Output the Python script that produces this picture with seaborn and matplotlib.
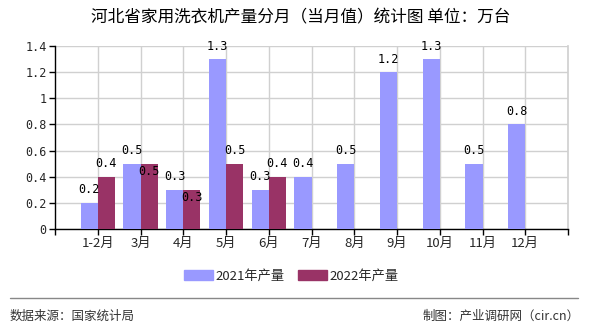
import matplotlib
matplotlib.use("Agg")
import matplotlib.pyplot as plt
import matplotlib.patches as mpatches
from matplotlib.ticker import FixedLocator, FuncFormatter
import numpy as np
import pandas as pd
import seaborn as sns

# Monthly washing-machine output for Hebei (unit: 10k sets)
months = ["1-2月", "3月", "4月", "5月", "6月", "7月", "8月", "9月", "10月", "11月", "12月"]
output_2021 = [0.2, 0.5, 0.3, 1.3, 0.3, 0.4, 0.5, 1.2, 1.3, 0.5, 0.8]
output_2022 = [0.4, 0.5, 0.3, 0.5, 0.4]
series_names = ["2021年产量", "2022年产量"]
colors = ["#9999FF", "#993366"]

sns.set_theme(style="white")
plt.rcParams["font.family"] = ["Noto Sans CJK SC", "DejaVu Sans"]
plt.rcParams["axes.unicode_minus"] = False

rows = []
for m, v in zip(months, output_2021):
    rows.append({"month": m, "value": v, "series": series_names[0]})
for m, v in zip(months, output_2022):
    rows.append({"month": m, "value": v, "series": series_names[1]})
df = pd.DataFrame(rows)

fig = plt.figure(figsize=(5.9, 3.3), dpi=100)
W, H = 590, 330
ax = fig.add_axes([55 / W, 1 - 229 / H, (568 - 55) / W, (229 - 46) / H])

sns.barplot(data=df, x="month", y="value", hue="series", order=months,
            hue_order=series_names, palette=colors, width=0.8, dodge=True,
            saturation=1, linewidth=0, ax=ax, legend=False, zorder=3)

ax.set_xlim(-1, len(months))
ax.set_ylim(0, 1.4)
ax.set_xlabel("")
ax.set_ylabel("")

# grid
ax.yaxis.set_major_locator(FixedLocator(np.arange(0, 1.41, 0.2)))
ax.yaxis.set_major_formatter(FuncFormatter(lambda v, p: f"{v:g}"))
ax.xaxis.set_major_locator(FixedLocator(range(len(months))))
ax.set_xticklabels(months)
ax.xaxis.set_minor_locator(FixedLocator([-1, len(months)]))
ax.grid(True, which="major", color="#d0d0d0", linewidth=1, zorder=0)
ax.set_axisbelow(True)

ax.spines["top"].set_visible(False)
ax.spines["right"].set_color("#d0d0d0")
ax.spines["left"].set_color("black")
ax.spines["bottom"].set_color("black")
ax.spines["left"].set_linewidth(1)
ax.spines["bottom"].set_linewidth(1)

ax.tick_params(axis="x", which="both", direction="out", length=4, width=1,
               color="black", labelsize=9.5, pad=2, bottom=True)
ax.tick_params(axis="y", direction="out", length=4, width=1, color="black",
               labelsize=9, pad=2, left=True)
for lab in ax.get_yticklabels():
    lab.set_family(["DejaVu Sans Mono"])
    lab.set_fontsize(8.5)

# value labels
label_font = dict(family=["DejaVu Sans Mono"], fontsize=8.5, color="black",
                  ha="center", va="center", zorder=5)
for i, v in enumerate(output_2021):
    ax.text(i - 0.2, v + 0.1, f"{v:g}", **label_font)
for i, v in enumerate(output_2022):
    if abs(v - output_2021[i]) < 1e-9:
        ax.text(i + 0.2, v - 0.06, f"{v:g}", **label_font)
    else:
        ax.text(i + 0.2, v + 0.1, f"{v:g}", **label_font)

# title
fig.text(301 / W, 1 - 18 / H, "河北省家用洗衣机产量分月（当月值）统计图 单位：万台",
         ha="center", va="center", fontsize=12, color="black")

# legend
handles = [mpatches.Patch(color=c, label=n) for c, n in zip(colors, series_names)]
fig.legend(handles=handles, loc="center", bbox_to_anchor=(291 / W, 1 - 276 / H),
           ncol=2, frameon=False, fontsize=9.5, handlelength=2.2, handleheight=0.8,
           columnspacing=1.0, handletextpad=0.2)

# footer
fig.add_artist(plt.Line2D([10 / W, 578 / W], [1 - 298 / H, 1 - 298 / H],
                          color="#888888", linewidth=1))
fig.text(10 / W, 1 - 316 / H, "数据来源：国家统计局", ha="left", va="center",
         fontsize=9, color="#333333")
fig.text(580 / W, 1 - 316 / H, "制图：产业调研网（cir.cn）", ha="right", va="center",
         fontsize=9, color="#333333")

fig.savefig("out.png", dpi=100)
